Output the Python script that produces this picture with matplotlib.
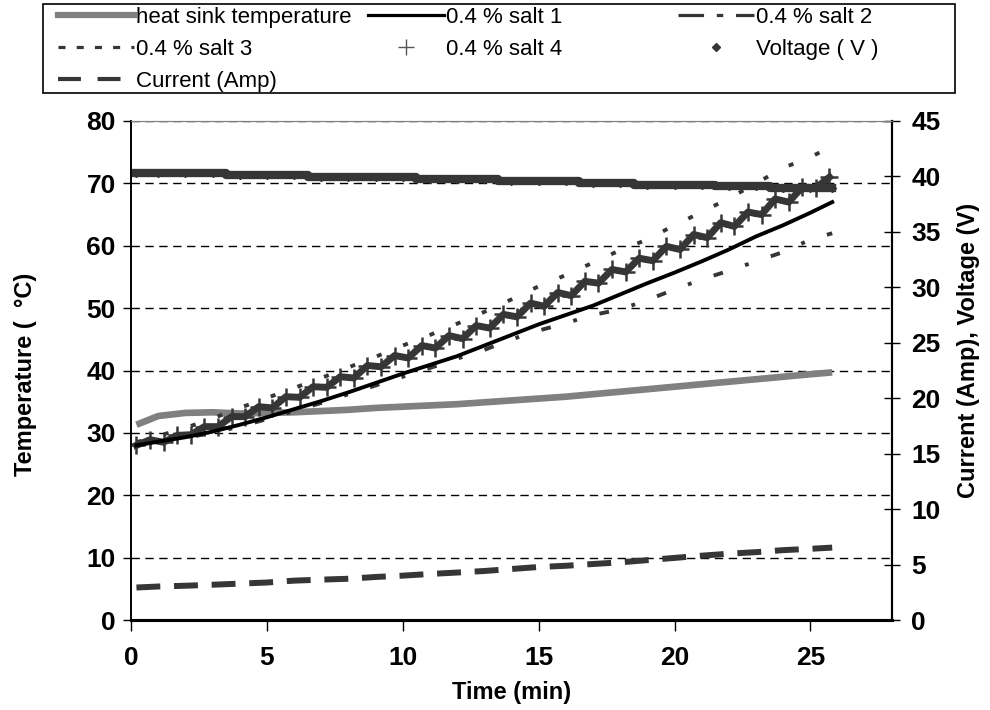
import matplotlib.pyplot as plt
from matplotlib.lines import Line2D
from matplotlib.patches import Rectangle

plt.rcParams['font.family'] = ['Liberation Sans', 'DejaVu Sans']

# sampling times (min)
time_min = [0.2, 1, 2, 3, 4, 5, 6, 7, 8, 9, 10, 11, 12, 13, 14, 15, 16,
            17, 18, 19, 20, 21, 22, 23, 24, 25, 25.8]
time_half = [0.2, 0.7, 1.2, 1.7, 2.2, 2.7, 3.2, 3.7, 4.2, 4.7, 5.2, 5.7,
             6.2, 6.7, 7.2, 7.7, 8.2, 8.7, 9.2, 9.7, 10.2, 10.7, 11.2, 11.7,
             12.2, 12.7, 13.2, 13.7, 14.2, 14.7, 15.2, 15.7, 16.2, 16.7,
             17.2, 17.7, 18.2, 18.7, 19.2, 19.7, 20.2, 20.7, 21.2, 21.7,
             22.2, 22.7, 23.2, 23.7, 24.2, 24.7, 25.2, 25.7]

# temperatures (deg C)
heat_sink = [31.3, 32.7, 33.2, 33.3, 33.1, 33.2, 33.3, 33.5, 33.7, 34.0,
             34.2, 34.4, 34.6, 34.9, 35.2, 35.5, 35.8, 36.2, 36.6, 37.0,
             37.4, 37.8, 38.2, 38.6, 39.0, 39.4, 39.7]
salt1 = [28.0, 28.6, 29.3, 30.2, 31.3, 32.5, 33.8, 35.1, 36.5, 38.0, 39.5,
         40.9, 42.3, 44.0, 45.7, 47.4, 48.9, 50.4, 52.2, 54.0, 55.7, 57.5,
         59.4, 61.5, 63.3, 65.3, 67.0]
salt2 = [28.0, 28.5, 29.2, 30.0, 31.0, 32.2, 33.5, 34.8, 36.2, 37.6, 39.0,
         40.4, 41.9, 43.3, 45.0, 46.4, 47.6, 48.9, 49.8, 51.3, 53.0, 54.6,
         56.0, 57.5, 59.0, 61.0, 62.0]
salt3 = [28.5, 29.5, 30.8, 32.3, 34.0, 35.6, 37.2, 38.8, 40.5, 42.2, 44.0,
         45.7, 47.5, 49.4, 51.4, 53.5, 55.3, 57.3, 59.3, 61.0, 63.3, 65.4,
         67.6, 70.0, 72.5, 74.2, 76.0]
salt4 = [28.0, 28.9, 28.5, 29.6, 29.7, 31.0, 31.0, 32.6, 32.6, 34.2, 34.0,
         35.8, 35.7, 37.4, 37.3, 39.0, 38.8, 40.8, 40.6, 42.4, 42.0, 44.0,
         43.6, 45.6, 45.1, 47.2, 46.8, 49.0, 48.6, 50.8, 50.3, 52.5, 52.0,
         54.3, 54.0, 56.2, 55.8, 58.0, 57.6, 59.9, 59.4, 61.8, 61.3, 63.7,
         63.1, 65.4, 65.0, 67.5, 67.0, 69.4, 69.3, 71.0]

# electrical readings
voltage = [40.3, 40.3, 40.3, 40.3, 40.1, 40.1, 40.1, 39.95, 39.95, 39.95,
           39.95, 39.8, 39.8, 39.8, 39.6, 39.6, 39.6, 39.4, 39.4, 39.25,
           39.25, 39.25, 39.1, 39.1, 39.0, 39.0, 39.0]
current = [2.93, 3.02, 3.09, 3.18, 3.28, 3.38, 3.55, 3.64, 3.72, 3.88, 4.0,
           4.15, 4.28, 4.42, 4.6, 4.78, 4.89, 5.05, 5.2, 5.4, 5.6, 5.8, 5.98,
           6.12, 6.3, 6.42, 6.53]

legend_cols = [
    ["heat sink temperature", "0.4 % salt 3", "Current (Amp)"],
    ["0.4 % salt 1", "0.4 % salt 4"],
    ["0.4 % salt 2", "Voltage ( V )"],
]

dark = '#363636'

fig = plt.figure(figsize=(9.9, 7.1), dpi=100)
ax1 = fig.add_axes([131 / 990, 1 - 620 / 710, 761 / 990, 499 / 710])
ax2 = ax1.twinx()

ax1.plot(time_min, heat_sink, color='#808080', lw=4.8, solid_capstyle='butt')
ax1.plot(time_min, salt2, color=dark, lw=2.8, dashes=(2.5, 6, 1, 6))
ax1.plot(time_min, salt3, color=dark, lw=2.8, dashes=(1.3, 6))
# salt 4: dense band of "+" readings
ax1.plot(time_half, salt4, color=dark, lw=5)
ax1.plot(time_half, salt4, color=dark, ls='none', marker='+', ms=13, mew=1.8)
ax1.plot(time_min, salt1, color='black', lw=2.8)

ax2.plot(time_min, voltage, color=dark, lw=6, drawstyle='steps-mid')
ax2.plot(time_min, voltage, color=dark, ls='none', marker='D', ms=4.5)
ax2.plot(time_min, current, color=dark, lw=4.3, dashes=(4, 2.3))

ax1.set_xlim(0, 28)
ax1.set_ylim(0, 80)
ax2.set_ylim(0, 45)
ax1.set_xticks([0, 5, 10, 15, 20, 25])
ax1.set_yticks(range(0, 81, 10))
ax2.set_yticks(range(0, 46, 5))

ax1.grid(axis='y', color='black', lw=1.0, ls=(0, (6, 4)))
ax1.set_axisbelow(True)

for ax in (ax1, ax2):
    ax.spines['top'].set_color('#808080')
    ax.spines['left'].set_linewidth(1.2)
    ax.spines['right'].set_linewidth(1.5)
    ax.spines['bottom'].set_linewidth(2.2)

ax1.tick_params(axis='y', direction='out', length=6, width=1, pad=5,
                labelsize=19)
ax1.tick_params(axis='x', direction='out', length=8, width=1, pad=11,
                labelsize=19)
ax2.tick_params(axis='y', direction='inout', length=12, width=1, pad=8,
                labelsize=19)
for lab in ax1.get_xticklabels() + ax1.get_yticklabels() + ax2.get_yticklabels():
    lab.set_fontweight('bold')

ax1.set_xlabel("Time (min)", fontsize=17, fontweight='bold', va='center')
ax1.xaxis.set_label_coords(0.5, -0.146)
ax1.set_ylabel("Temperature (  \u00b0C)", fontsize=17, fontweight='bold', va='center')
ax1.yaxis.set_label_coords(-0.138, 0.493)
ax2.set_ylabel("Current (Amp), Voltage (V)", fontsize=17, fontweight='bold',
               va='center', rotation=90)
ax2.yaxis.set_label_coords(1.1, 0.541)

# legend (three columns, like the spreadsheet layout)
handles = [
    [Line2D([], [], color='#808080', lw=4.5),
     Line2D([], [], color=dark, lw=2.3, dashes=(2.2, 3.5)),
     Line2D([], [], color=dark, lw=3, dashes=(5.5, 4))],
    [Line2D([], [], color='black', lw=2.3),
     Line2D([], [], color='#555555', ls='none', marker='+', ms=11, mew=1)],
    [Line2D([], [], color=dark, lw=2.3, dashes=(8, 4, 2, 4)),
     Line2D([], [], color=dark, ls='none', marker='D', ms=4)],
]
col_x = [58, 368, 678]
for hs, labels, x in zip(handles, legend_cols, col_x):
    fig.legend(hs, labels, loc='upper left',
               bbox_to_anchor=(x / 990, 1 - 7 / 710),
               frameon=False, fontsize=16, borderpad=0, borderaxespad=0,
               handlelength=3.4, handletextpad=0.1, labelspacing=0.5)
fig.add_artist(Rectangle((43 / 990, 1 - 93 / 710), 912 / 990, 89 / 710,
                         transform=fig.transFigure, fill=False,
                         edgecolor='black', lw=1.2))

fig.savefig("out.png", dpi=100)
